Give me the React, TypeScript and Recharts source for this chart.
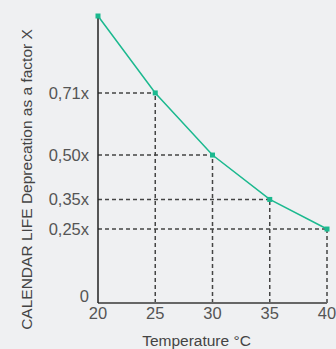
import {Label, Line, LineChart, ReferenceLine, XAxis, YAxis} from "recharts"

const temperatures = [20, 25, 30, 35, 40]
const factors = [0.97, 0.71, 0.5, 0.35, 0.25]
const yTicks = [0, 0.25, 0.35, 0.5, 0.71]
const xTicks = [20, 25, 30, 35, 40]

const chartData = temperatures.map((t, i) => ({temp: t, factor: factors[i]}))

const formatFactor = (v: number) => (v === 0 ? "0" : v.toFixed(2).replace(".", ",") + "x")

const SquareDot = (props: any) => {
    const {cx, cy} = props
    return <rect x={cx - 2.5} y={cy - 2.5} width={5} height={5} fill="#1bb98f"/>
}

const YTick = (props: any) => {
    const {x, y, payload} = props
    // the zero sits a bit above the axis
    const shift = payload.value === 0 ? -7 : 0
    return (
        <text x={x} y={y + shift} dy="0.35em" textAnchor="end" fill="#555" fontSize={16.5}>
            {formatFactor(payload.value)}
        </text>
    )
}

const YLabel = (props: any) => {
    const {viewBox} = props
    const cx = 26
    const cy = viewBox.y + viewBox.height / 2 + 20
    return (
        <text x={cx} y={cy} transform={`rotate(-90 ${cx} ${cy})`} textAnchor="middle" dominantBaseline="central"
              fill="#444" fontSize={15.5}>
            CALENDAR LIFE Deprecation as a factor X
        </text>
    )
}

export default function App() {
    return (
        <div style={{position: "fixed", left: 0, top: 0, width: 336, height: 349, background: "#eff0f2"}}>
            <LineChart width={336} height={349} data={chartData}
                       margin={{top: 16, right: 9, bottom: 0, left: 0}}
                       style={{fontFamily: "'Liberation Sans', Arial, sans-serif"}}>
                <XAxis dataKey="temp" type="number" domain={[20, 40]} ticks={xTicks}
                       stroke="#666" strokeWidth={2} tickLine={false} height={46}
                       tick={{fill: "#555", fontSize: 16.5}} tickMargin={-2}>
                    <Label value="Temperature °C" position="insideBottom" offset={3} dx={-16}
                           fill="#444" fontSize={15.5}/>
                </XAxis>
                <YAxis type="number" domain={[0, 0.97]} ticks={yTicks} width={98}
                       stroke="#222" strokeWidth={1.5} tickLine={false} tickMargin={3}
                       tick={<YTick/>} label={<YLabel/>}/>
                {temperatures.slice(1).map((t, i) => (
                    <ReferenceLine key={"h" + t} segment={[{x: 20, y: factors[i + 1]}, {x: t, y: factors[i + 1]}]}
                                   stroke="#444" strokeWidth={1.5} strokeDasharray="4 3" ifOverflow="visible"/>
                ))}
                {temperatures.slice(1).map((t, i) => (
                    <ReferenceLine key={"v" + t} segment={[{x: t, y: 0}, {x: t, y: factors[i + 1]}]}
                                   stroke="#444" strokeWidth={1.5} strokeDasharray="4 3" ifOverflow="visible"/>
                ))}
                <Line type="linear" dataKey="factor" stroke="#1bb98f" strokeWidth={1.5}
                      dot={<SquareDot/>} activeDot={false} isAnimationActive={false}/>
            </LineChart>
        </div>
    )
}
